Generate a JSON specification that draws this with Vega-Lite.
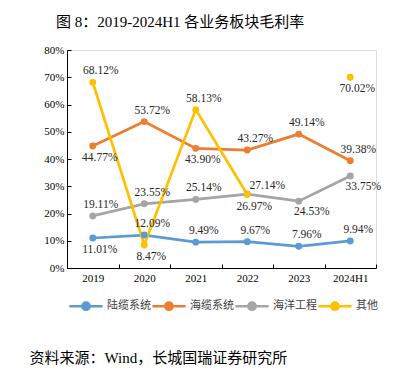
{
  "$schema": "https://vega.github.io/schema/vega-lite/v6.json",
  "width": 309,
  "height": 218,
  "autosize": "none",
  "padding": {"left": 67, "top": 50, "right": 40, "bottom": 103},
  "background": "white",
  "title": {
    "text": "图 8：2019-2024H1 各业务板块毛利率",
    "anchor": "start",
    "frame": "group",
    "dx": -11,
    "offset": 14,
    "font": "Liberation Serif, Noto Sans CJK SC",
    "fontSize": 15,
    "fontWeight": "normal",
    "color": "#000000"
  },
  "data": {
    "values": [
      {"year": "2019", "series": "陆缆系统", "value": 0.1101},
      {"year": "2020", "series": "陆缆系统", "value": 0.1209},
      {"year": "2021", "series": "陆缆系统", "value": 0.0949},
      {"year": "2022", "series": "陆缆系统", "value": 0.0967},
      {"year": "2023", "series": "陆缆系统", "value": 0.0796},
      {"year": "2024H1", "series": "陆缆系统", "value": 0.0994},
      {"year": "2019", "series": "海缆系统", "value": 0.4477},
      {"year": "2020", "series": "海缆系统", "value": 0.5372},
      {"year": "2021", "series": "海缆系统", "value": 0.4390},
      {"year": "2022", "series": "海缆系统", "value": 0.4327},
      {"year": "2023", "series": "海缆系统", "value": 0.4914},
      {"year": "2024H1", "series": "海缆系统", "value": 0.3938},
      {"year": "2019", "series": "海洋工程", "value": 0.1911},
      {"year": "2020", "series": "海洋工程", "value": 0.2355},
      {"year": "2021", "series": "海洋工程", "value": 0.2514},
      {"year": "2022", "series": "海洋工程", "value": 0.2714},
      {"year": "2023", "series": "海洋工程", "value": 0.2453},
      {"year": "2024H1", "series": "海洋工程", "value": 0.3375},
      {"year": "2019", "series": "其他", "value": 0.6812},
      {"year": "2020", "series": "其他", "value": 0.0847},
      {"year": "2021", "series": "其他", "value": 0.5813},
      {"year": "2022", "series": "其他", "value": 0.2697},
      {"year": "2023", "series": "其他", "value": null},
      {"year": "2024H1", "series": "其他", "value": 0.7002}
    ]
  },
  "encoding": {
    "x": {
      "field": "year",
      "type": "ordinal",
      "sort": null,
      "scale": {"paddingInner": 0, "paddingOuter": 0},
      "axis": {
        "title": "资料来源：Wind，长城国瑞证券研究所",
        "titleX": -38,
        "titleY": 89,
        "titleAlign": "left",
        "titleBaseline": "middle",
        "titleFont": "Liberation Serif, Noto Sans CJK SC",
        "titleFontSize": 15,
        "titleFontWeight": "normal",
        "titleColor": "#000000",
        "labelAngle": 0,
        "labelFont": "Liberation Serif",
        "labelFontSize": 11,
        "labelColor": "#000000",
        "labelPadding": 8,
        "tickBand": "extent",
        "tickSize": -4,
        "tickColor": "#000000",
        "domainColor": "#000000",
        "grid": false
      }
    },
    "y": {
      "field": "value",
      "type": "quantitative",
      "scale": {"domain": [0, 0.8], "nice": false},
      "axis": {
        "title": null,
        "format": ".0%",
        "values": [0, 0.1, 0.2, 0.3, 0.4, 0.5, 0.6, 0.7, 0.8],
        "labelFont": "Liberation Serif",
        "labelFontSize": 11,
        "labelColor": "#000000",
        "labelPadding": 7,
        "tickSize": -4,
        "tickColor": "#000000",
        "domainColor": "#000000",
        "grid": false
      }
    },
    "color": {
      "field": "series",
      "type": "nominal",
      "sort": ["陆缆系统", "海缆系统", "海洋工程", "其他"],
      "scale": {
        "domain": ["陆缆系统", "海缆系统", "海洋工程", "其他"],
        "range": ["#5B9BD5", "#ED7D31", "#A5A5A5", "#FFC000"]
      },
      "legend": {
        "title": null,
        "orient": "none",
        "direction": "horizontal",
        "legendX": 1,
        "legendY": 238,
        "symbolType": "M-1,0H1M0.22,0A0.22,0.22 0 1,1 -0.22,0A0.22,0.22 0 1,1 0.22,0Z",
        "symbolSize": 1100,
        "symbolStrokeWidth": 2.5,
        "symbolOpacity": 1,
        "labelFont": "Noto Sans CJK SC",
        "labelFontSize": 11,
        "labelColor": "#404040",
        "labelOffset": 3,
        "columnPadding": -10,
        "padding": 0
      }
    }
  },
  "layer": [
    {
      "mark": {"type": "line", "strokeWidth": 2.75, "invalid": "break-paths-show-domains"}
    },
    {
      "mark": {"type": "circle", "size": 48, "opacity": 1}
    },
    {
      "transform": [
        {"filter": "datum.value != null"},
        {"filter": "!((datum.series=='陆缆系统' && datum.year=='2019') || (datum.series=='海缆系统' && (datum.year=='2019' || datum.year=='2021')) || (datum.series=='其他' && (datum.year=='2020' || datum.year=='2022' || datum.year=='2024H1')) || (datum.series=='海洋工程' && (datum.year=='2022' || datum.year=='2023' || datum.year=='2024H1')))"}
      ],
      "mark": {"type": "text", "dx": 8, "dy": -11, "font": "Liberation Serif", "fontSize": 11.5},
      "encoding": {"text": {"field": "value", "type": "quantitative", "format": ".2%"}, "color": {"value": "#262626"}}
    },
    {
      "transform": [
        {"filter": "(datum.series=='陆缆系统' && datum.year=='2019') || (datum.series=='海缆系统' && (datum.year=='2019' || datum.year=='2021')) || (datum.series=='其他' && (datum.year=='2020' || datum.year=='2022' || datum.year=='2024H1'))"}
      ],
      "mark": {"type": "text", "dx": 7, "dy": 12, "font": "Liberation Serif", "fontSize": 11.5},
      "encoding": {"text": {"field": "value", "type": "quantitative", "format": ".2%"}, "color": {"value": "#262626"}}
    },
    {
      "transform": [
        {"filter": "datum.series=='海洋工程' && datum.year=='2022'"}
      ],
      "mark": {"type": "text", "dx": 20, "dy": -8, "font": "Liberation Serif", "fontSize": 11.5},
      "encoding": {"text": {"field": "value", "type": "quantitative", "format": ".2%"}, "color": {"value": "#262626"}}
    },
    {
      "transform": [
        {"filter": "datum.series=='海洋工程' && (datum.year=='2023' || datum.year=='2024H1')"}
      ],
      "mark": {"type": "text", "dx": 13, "dy": 11, "font": "Liberation Serif", "fontSize": 11.5},
      "encoding": {"text": {"field": "value", "type": "quantitative", "format": ".2%"}, "color": {"value": "#262626"}}
    }
  ]
}
